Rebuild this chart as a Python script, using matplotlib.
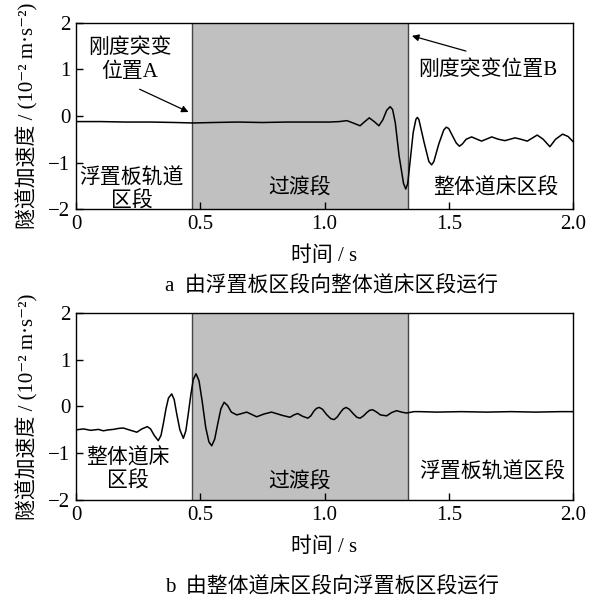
import numpy as np
import matplotlib
matplotlib.use('Agg')
import matplotlib.pyplot as plt

plt.rcParams['font.family'] = ['Liberation Serif', 'Noto Sans CJK SC', 'DejaVu Serif']
plt.rcParams['axes.unicode_minus'] = True

# panel a: floating slab -> ballast bed
t_a = [0.00, 0.10, 0.20, 0.30, 0.40, 0.47, 0.55, 0.65, 0.75, 0.85, 0.95, 1.02, 1.06,
       1.09, 1.12, 1.143, 1.16, 1.18, 1.20, 1.219, 1.235, 1.25, 1.264, 1.274, 1.285,
       1.30, 1.318, 1.327, 1.335, 1.345, 1.357, 1.368, 1.374, 1.38, 1.40, 1.42, 1.431,
       1.44, 1.46, 1.48, 1.49, 1.50, 1.53, 1.543, 1.555, 1.57, 1.592, 1.632, 1.673,
       1.70, 1.726, 1.767, 1.79, 1.816, 1.856, 1.88, 1.907, 1.93, 1.958, 1.98, 2.00]
acc_a = [-0.12, -0.12, -0.13, -0.13, -0.14, -0.15, -0.14, -0.13, -0.14, -0.13, -0.13,
         -0.13, -0.12, -0.10, -0.16, -0.21, -0.13, -0.04, -0.12, -0.21, -0.08, 0.12,
         0.20, 0.14, -0.15, -0.85, -1.45, -1.57, -1.45, -0.95, -0.35, -0.07, -0.03,
         -0.08, -0.55, -0.98, -1.05, -0.98, -0.60, -0.30, -0.24, -0.27, -0.58, -0.65,
         -0.60, -0.50, -0.45, -0.54, -0.45, -0.50, -0.53, -0.47, -0.50, -0.54, -0.41,
         -0.50, -0.66, -0.50, -0.39, -0.44, -0.55]

# panel b: ballast bed -> floating slab
t_b = [0.00, 0.03, 0.06, 0.09, 0.11, 0.13, 0.15, 0.17, 0.19, 0.22, 0.245, 0.265, 0.287,
       0.30, 0.315, 0.331, 0.342, 0.352, 0.362, 0.372, 0.385, 0.395, 0.405, 0.418,
       0.432, 0.442, 0.452, 0.462, 0.472, 0.483, 0.495, 0.508, 0.522, 0.535, 0.546,
       0.558, 0.570, 0.583, 0.596, 0.61, 0.625, 0.647, 0.667, 0.687, 0.707, 0.727,
       0.757, 0.787, 0.83, 0.861, 0.877, 0.892, 0.912, 0.933, 0.945, 0.957, 0.968,
       0.979, 0.992, 1.008, 1.025, 1.039, 1.052, 1.065, 1.076, 1.087, 1.10, 1.115,
       1.13, 1.143, 1.157, 1.17, 1.182, 1.194, 1.21, 1.225, 1.25, 1.27, 1.29, 1.31,
       1.33, 1.36, 1.384, 1.45, 1.55, 1.65, 1.75, 1.85, 1.95, 2.00]
acc_b = [-0.50, -0.48, -0.51, -0.49, -0.52, -0.50, -0.49, -0.47, -0.46, -0.51, -0.55,
         -0.48, -0.43, -0.48, -0.62, -0.73, -0.62, -0.35, -0.05, 0.18, 0.27, 0.15,
         -0.15, -0.50, -0.68, -0.52, -0.15, 0.25, 0.58, 0.70, 0.55, 0.10, -0.45, -0.76,
         -0.84, -0.70, -0.38, -0.05, 0.09, 0.02, -0.12, -0.18, -0.15, -0.12, -0.17,
         -0.22, -0.16, -0.12, -0.19, -0.23, -0.18, -0.15, -0.21, -0.25, -0.20, -0.10,
         -0.04, -0.02, -0.06, -0.17, -0.26, -0.28, -0.22, -0.12, -0.05, -0.02, -0.06,
         -0.15, -0.23, -0.25, -0.20, -0.13, -0.08, -0.07, -0.12, -0.18, -0.20, -0.13,
         -0.09, -0.12, -0.14, -0.11, -0.11, -0.12, -0.11, -0.12, -0.11, -0.12, -0.11,
         -0.11]

trans_start = 0.467
trans_end = 1.336

xticks = [0, 0.5, 1.0, 1.5, 2.0]
xticklabels = ['0', '0.5', '1.0', '1.5', '2.0']
yticks = [-2, -1, 0, 1, 2]

fig = plt.figure(figsize=(5.92, 5.97), dpi=100)
ax1 = fig.add_axes([0.1284, 0.6499, 0.8395, 0.3116])
ax2 = fig.add_axes([0.1284, 0.1625, 0.8395, 0.3132])

fs = 15
ylab = '隧道加速度 / (10⁻² m·s⁻²)'

for ax, t, acc in [(ax1, t_a, acc_a), (ax2, t_b, acc_b)]:
    ax.axvspan(trans_start, trans_end, color='#c0c0c0', lw=0, zorder=0)
    ax.axvline(trans_start, color='#444444', lw=1.0, zorder=1)
    ax.axvline(trans_end, color='#444444', lw=1.0, zorder=1)
    ax.plot(t, acc, color='black', lw=1.1, zorder=3)
    ax.set_xlim(0, 2.0)
    ax.set_ylim(-2, 2)
    ax.set_xticks(xticks)
    ax.set_xticklabels(xticklabels)
    ax.set_yticks(yticks)
    ax.tick_params(direction='in', length=5, width=1, labelsize=fs, pad=4,
                   top=False, right=False)
    for sp in ax.spines.values():
        sp.set_linewidth(1.0)
    ax.set_xlabel('时间 / s', fontsize=fs, labelpad=9)
    ax.set_ylabel(ylab, fontsize=fs, labelpad=7)
    ax.text(0.9, -1.55 if ax is ax1 else -1.63, '过渡段', fontsize=fs, ha='center', va='center')

arrow = dict(arrowstyle='-|>', color='black', lw=0.9, mutation_scale=10)

# panel a labels
ax1.text(0.217, 1.2, '刚度突变\n位置A', fontsize=fs, ha='center', va='center', linespacing=1.3)
ax1.annotate('', xy=(0.463, 0.06), xytext=(0.246, 0.6), arrowprops=arrow)
ax1.text(1.656, 0.99, '刚度突变位置B', fontsize=fs, ha='center', va='center')
ax1.annotate('', xy=(1.341, 1.74), xytext=(1.58, 1.38), arrowprops=arrow)
ax1.text(0.224, -1.59, '浮置板轨道\n区段', fontsize=fs, ha='center', va='center', linespacing=1.2)
ax1.text(1.69, -1.55, '整体道床区段', fontsize=fs, ha='center', va='center')

# panel b labels
ax2.text(0.21, -1.36, '整体道床\n区段', fontsize=fs, ha='center', va='center', linespacing=1.2)
ax2.text(1.677, -1.41, '浮置板轨道区段', fontsize=fs, ha='center', va='center')

fig.text(0.56, 1 - 286 / 597, 'a  由浮置板区段向整体道床区段运行', fontsize=fs, ha='center', va='center')
fig.text(0.56, 1 - 587 / 597, 'b  由整体道床区段向浮置板区段运行', fontsize=fs, ha='center', va='center')

fig.savefig('out.png', dpi=100)
